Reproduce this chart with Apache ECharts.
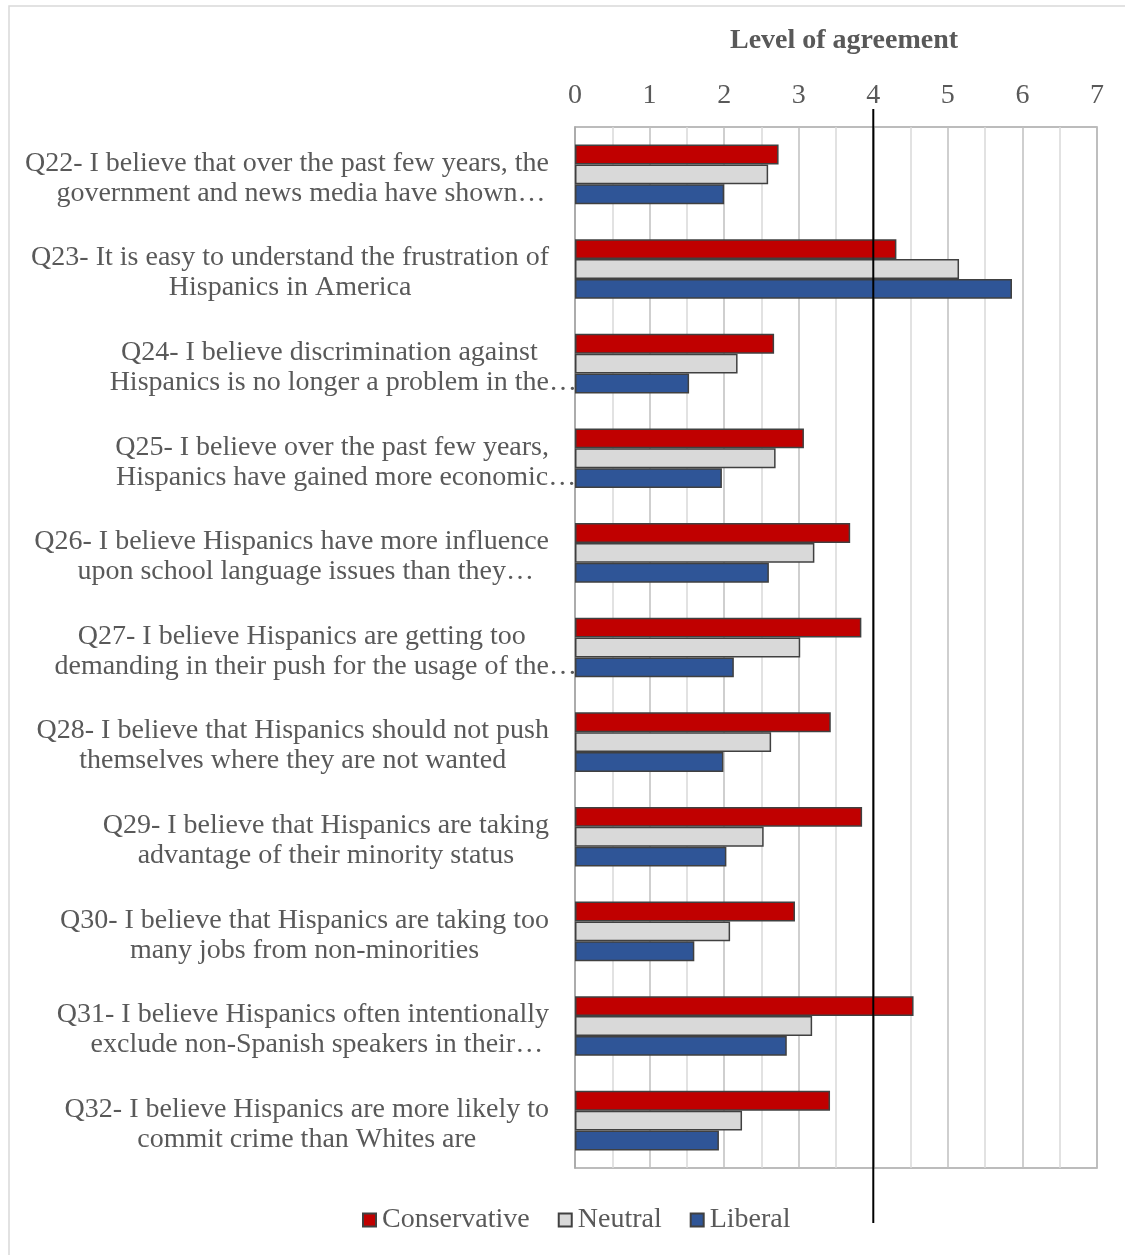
<!DOCTYPE html>
<html>
<head>
<meta charset="utf-8">
<script src="https://cdn.jsdelivr.net/npm/echarts@6/dist/echarts.min.js"></script>
<style>
html,body{margin:0;padding:0;background:#fff;}
#chart{width:1125px;height:1255px;}
</style>
</head>
<body>
<div id="chart"></div>
<script>
const categories = [
  "Q22- I believe that over the past few years, the\ngovernment and news media have shown…",
  "Q23- It is easy to understand the frustration of\nHispanics in America",
  "Q24- I believe discrimination against\nHispanics is no longer a problem in the…",
  "Q25- I believe over the past few years,\nHispanics have gained more economic…",
  "Q26- I believe Hispanics have more influence\nupon school language issues than they…",
  "Q27- I believe Hispanics are getting too\ndemanding in their push for the usage of the…",
  "Q28- I believe that Hispanics should not push\nthemselves where they are not wanted",
  "Q29- I believe that Hispanics are taking\nadvantage of their minority status",
  "Q30- I believe that Hispanics are taking too\nmany jobs from non-minorities",
  "Q31- I believe Hispanics often intentionally\nexclude non-Spanish speakers in their…",
  "Q32- I believe Hispanics are more likely to\ncommit crime than Whites are"
];
const conservative = [2.73, 4.31, 2.67, 3.07, 3.69, 3.84, 3.43, 3.85, 2.95, 4.54, 3.42];
const neutral      = [2.59, 5.15, 2.18, 2.69, 3.21, 3.02, 2.63, 2.53, 2.08, 3.18, 2.24];
const liberal      = [2.00, 5.86, 1.53, 1.97, 2.60, 2.13, 1.99, 2.03, 1.60, 2.84, 1.93];
const seriesNames = ["Conservative", "Neutral", "Liberal"];
const referenceValue = 4;

const FONT = "'Liberation Serif', 'Times New Roman', serif";
const TXT = '#595959';

const chart = echarts.init(document.getElementById('chart'), null, {renderer: 'canvas'});

function barSeries(name, data, color) {
  return {
    name: name,
    type: 'bar',
    data: data,
    barGap: '0%',
    barCategoryGap: '37%',
    itemStyle: {color: color, borderColor: '#404040', borderWidth: 1.5},
    emphasis: {disabled: true}
  };
}

function labelFormatter(v) {
  return v.split('\n').map(function (l) {
    if (l.charAt(l.length - 1) === '…') {
      return '{c|' + l.slice(0, -1) + '}{e|\u2003…}';
    }
    return '{c|' + l + '}';
  }).join('\n');
}

const option = {
  animation: false,
  backgroundColor: '#ffffff',
  grid: {left: 575, right: 28, top: 127, bottom: 87, show: true, borderColor: '#a6a6a6', borderWidth: 1.5},
  legend: {
    left: 357,
    top: 1201,
    itemWidth: 13,
    itemHeight: 13,
    itemGap: 28,
    icon: 'rect',
    textStyle: {fontFamily: FONT, fontSize: 28, color: TXT, padding: [0, 0, 0, 1]},
    data: seriesNames
  },
  xAxis: {
    type: 'value',
    position: 'top',
    min: 0,
    max: 7,
    interval: 1,
    name: 'Level of agreement',
    nameLocation: 'middle',
    nameGap: 72,
    nameTextStyle: {fontFamily: FONT, fontSize: 28, fontWeight: 'bold', color: TXT, padding: [0, 0, 0, 16]},
    axisLine: {show: false},
    axisTick: {show: false},
    axisLabel: {fontFamily: FONT, fontSize: 28, color: TXT, margin: 17},
    splitLine: {show: true, lineStyle: {color: '#bfbfbf', width: 1.5}},
    minorTick: {show: false, splitNumber: 2},
    minorSplitLine: {show: true, lineStyle: {color: '#d9d9d9', width: 1.5}}
  },
  yAxis: {
    type: 'category',
    inverse: true,
    data: categories,
    axisLine: {show: true, lineStyle: {color: '#a6a6a6', width: 1.5}},
    axisTick: {show: false},
    axisLabel: {
      margin: 26,
      interval: 0,
      padding: [8, 0, 0, 0],
      formatter: labelFormatter,
      rich: {
        c: {align: 'center', fontFamily: FONT, fontSize: 28, color: TXT, lineHeight: 30},
        e: {align: 'center', width: 0.01, fontFamily: FONT, fontSize: 28, color: TXT, lineHeight: 30}
      }
    }
  },
  series: [
    barSeries(seriesNames[0], conservative, '#c00000'),
    barSeries(seriesNames[1], neutral, '#d9d9d9'),
    barSeries(seriesNames[2], liberal, '#2f5597')
  ]
};

chart.setOption(option);

const px = chart.convertToPixel({xAxisIndex: 0}, referenceValue);
chart.setOption({
  graphic: [
    {
      type: 'rect',
      silent: true,
      shape: {x: 9, y: 6, width: 1140, height: 1280},
      style: {fill: 'none', stroke: '#d9d9d9', lineWidth: 1.5},
      z: -1
    },
    {
      type: 'line',
      silent: true,
      shape: {x1: px, y1: 109, x2: px, y2: 1223},
      style: {stroke: '#000000', lineWidth: 2},
      z: 100
    }
  ]
});
</script>
</body>
</html>
